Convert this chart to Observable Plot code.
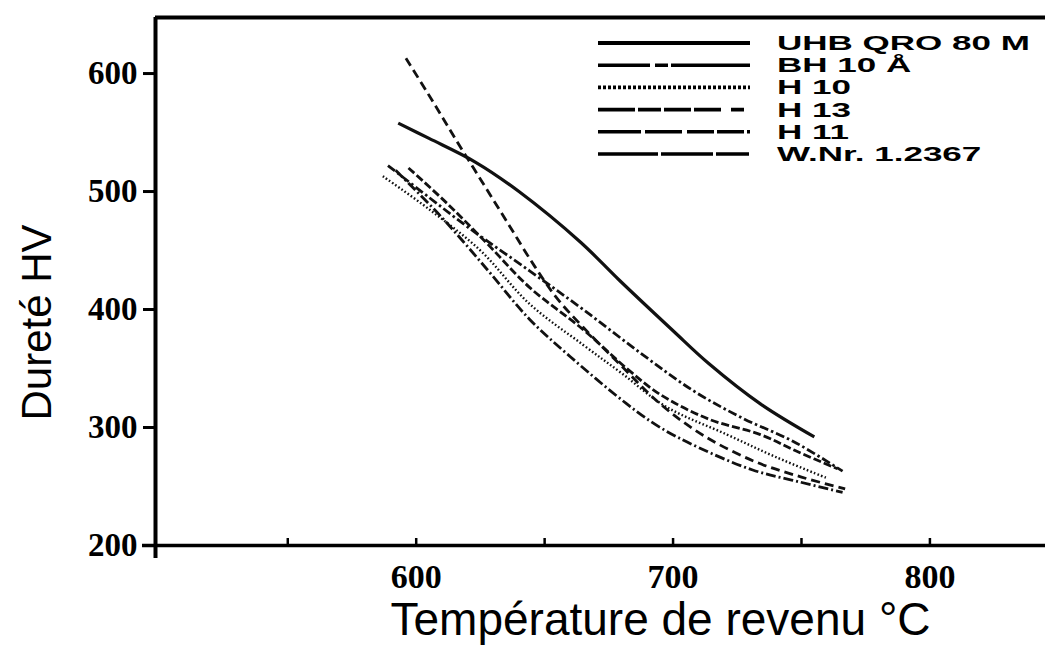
<!DOCTYPE html>
<html>
<head>
<meta charset="utf-8">
<script src="https://cdn.jsdelivr.net/npm/d3@7"></script>
<script src="https://cdn.jsdelivr.net/npm/@observablehq/plot@0.6"></script>
<style>
  body { margin: 0; background: #fff; }
  #chart svg { display: block; }
</style>
</head>
<body>
<div id="chart"></div>
<script>
// Tempering curves: hardness (HV) against tempering temperature (°C)
const seriesNames = ["UHB QRO 80 M", "BH 10 Å", "H 10", "H 13", "H 11", "W.Nr. 1.2367"];

const uhbTemp = [593, 605, 623, 640, 664, 679, 700, 714, 734, 755];
const uhbHV   = [558, 545, 525, 500, 457, 425, 382, 354, 320, 292];

const bh10aTemp = [589, 605, 620, 644, 665, 688, 708, 727, 747, 766];
const bh10aHV   = [522, 495, 470, 433, 400, 362, 331, 308, 288, 263];

const h10Temp = [587, 605, 625, 644, 665, 680, 697, 721, 740, 760];
const h10HV   = [513, 485, 450, 405, 370, 346, 318, 294, 275, 257];

const h13Temp = [597, 612, 628, 644, 665, 682, 695, 714, 734, 749, 764];
const h13HV   = [520, 490, 455, 419, 383, 350, 328, 307, 294, 279, 265];

const h11Temp = [592, 610, 628, 644, 660, 682, 695, 710, 731, 749, 766];
const h11HV   = [518, 478, 433, 392, 360, 320, 300, 283, 264, 254, 245];

const wnrTemp = [596, 606, 616, 626, 636, 646, 655, 665, 680, 695, 712, 732, 750, 767];
const wnrHV   = [613, 578, 542, 507, 472, 437, 409, 385, 352, 320, 293, 271, 258, 248];

// Axes
const xDomain = [498.5, 845];
const yDomain = [200, 647.5];
const xMinorTicks = [550, 600, 650, 700, 750, 800];
const xLabelTicks = [600, 700, 800];
const yTicks = [200, 300, 400, 500, 600];
const xTitle = "Température de revenu °C";
const yTitle = "Dureté HV";

const temps = [uhbTemp, bh10aTemp, h10Temp, h13Temp, h11Temp, wnrTemp];
const hards = [uhbHV, bh10aHV, h10HV, h13HV, h11HV, wnrHV];

const rows = seriesNames.flatMap((name, i) =>
  temps[i].map((t, j) => ({series: name, T: t, HV: hards[i][j]}))
);

// stroke style per series: curve dashes, legend sample dashes, widths
const styles = {
  "UHB QRO 80 M": {dash: null,        legendDash: null,                      width: 3.2, legendWidth: 4.0},
  "BH 10 Å":      {dash: "9,3,2.5,3", legendDash: "52,5,13,3,80",            width: 2.8, legendWidth: 3.6},
  "H 10":         {dash: "1.6,2.2",   legendDash: "3,2",                     width: 2.4, legendWidth: 3.6},
  "H 13":         {dash: "8,3",       legendDash: "37,3,23,3,27,3,27,10,13", width: 2.8, legendWidth: 3.6},
  "H 11":         {dash: "10,3,2,3",  legendDash: "43,4,37,5,27,3,27,3,3",   width: 2.8, legendWidth: 3.6},
  "W.Nr. 1.2367": {dash: "9,5",       legendDash: "60,3,52,3,33",            width: 2.8, legendWidth: 3.6}
};

const pxPerHV = 528 / (yDomain[1] - yDomain[0]);   // for the small overhangs of the axis lines
const pxPerC = 890 / (xDomain[1] - xDomain[0]);

const curveMarks = seriesNames.map(name => Plot.line(rows.filter(d => d.series === name), {
  x: "T", y: "HV",
  stroke: "#111",
  strokeWidth: styles[name].width,
  strokeDasharray: styles[name].dash,
  curve: "catmull-rom",
  strokeLinecap: "butt"
}));

const plot = Plot.plot({
  width: 1045,
  height: 655,
  marginLeft: 155,
  marginRight: 0,
  marginTop: 17,
  marginBottom: 110,
  x: {domain: xDomain},
  y: {domain: yDomain},
  style: {background: "#fff", color: "#000", fontFamily: "Liberation Sans, Arial, sans-serif", fontSize: "12px"},
  marks: [
    // frame: top border, left axis (running a little below the x axis), bottom axis
    Plot.ruleY([yDomain[1]], {x1: xDomain[0], x2: xDomain[1], strokeWidth: 4}),
    Plot.ruleX([xDomain[0]], {y1: yDomain[0] - 13 / pxPerHV, y2: yDomain[1], strokeWidth: 4}),
    Plot.ruleY([yDomain[0]], {x1: xDomain[0] - 13 / pxPerC, x2: xDomain[1], strokeWidth: 3.5}),
    // small inward ticks on the temperature axis
    Plot.ruleX(xMinorTicks, {y1: yDomain[0], y2: yDomain[0] + 7 / pxPerHV, strokeWidth: 2.5}),
    Plot.axisY({
      ticks: yTicks, tickSize: 12, tickPadding: 6, strokeWidth: 3,
      tickFormat: d => String(d), label: null,
      fontSize: 33, fontWeight: "bold", fontFamily: "Liberation Serif, Times New Roman, serif"
    }),
    Plot.axisX({
      ticks: xLabelTicks, tickSize: 0, tickPadding: 18,
      tickFormat: d => String(d), label: null,
      fontSize: 34, fontWeight: "bold", fontFamily: "Liberation Serif, Times New Roman, serif"
    }),
    ...curveMarks,
    Plot.text([xTitle], {
      frameAnchor: "bottom", textAnchor: "middle", dx: 60, dy: 75, fontSize: 46, lineAnchor: "middle",
      fontFamily: "Liberation Sans, Arial, sans-serif", fill: "#000"
    }),
    Plot.text([yTitle], {
      frameAnchor: "left", textAnchor: "middle", dx: -118, dy: 41, rotate: -90, fontSize: 42, lineAnchor: "middle",
      fontFamily: "Liberation Sans, Arial, sans-serif", fill: "#000"
    })
  ]
});

document.getElementById("chart").appendChild(plot);

// Legend in the upper right of the plotting area
const svg = d3.select(plot);
const legend = svg.append("g").attr("class", "legend");
const lx0 = 598, lx1 = 750, ltx = 777, ly0 = 43, lstep = 22.2;
seriesNames.forEach((name, i) => {
  const y = ly0 + i * lstep;
  legend.append("line")
    .attr("x1", lx0).attr("x2", lx1).attr("y1", y).attr("y2", y)
    .attr("stroke", "#000")
    .attr("stroke-width", styles[name].legendWidth)
    .attr("stroke-dasharray", styles[name].legendDash);
  const t = legend.append("text")
    .attr("x", ltx).attr("y", y + 7)
    .attr("text-anchor", "start")
    .attr("font-family", "Liberation Sans, Arial, sans-serif")
    .attr("font-weight", "bold")
    .attr("font-size", 20)
    .attr("fill", "#000")
    .text(name);
  const w = t.node().getComputedTextLength();
  t.attr("textLength", w * 1.75).attr("lengthAdjust", "spacingAndGlyphs");
});
</script>
</body>
</html>
